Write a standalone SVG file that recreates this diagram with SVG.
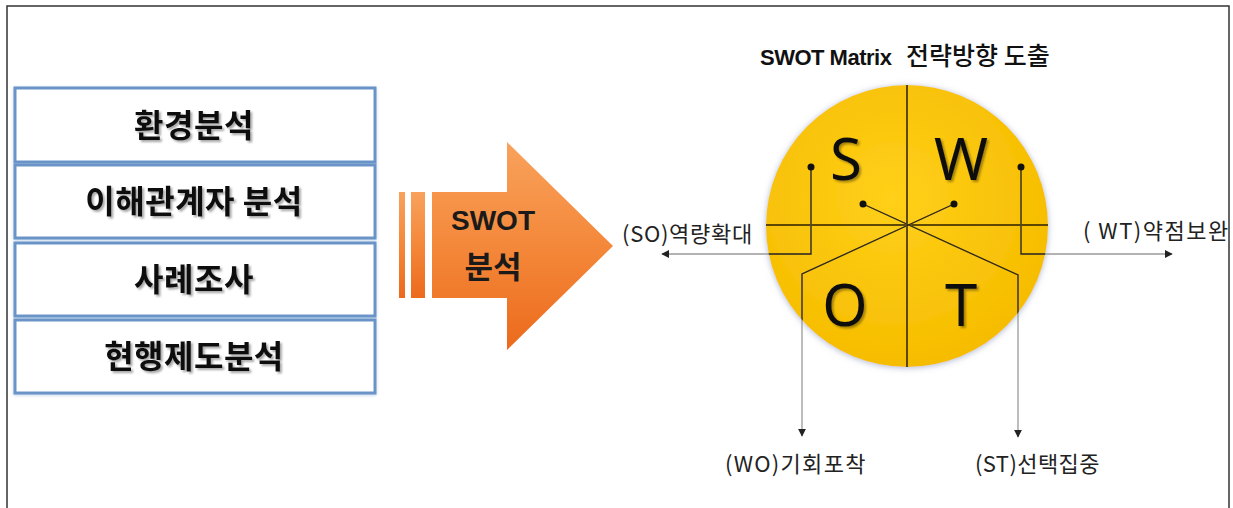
<svg xmlns="http://www.w3.org/2000/svg" width="1233" height="508" viewBox="0 0 1233 508">
<style>
.box{fill:#ffffff;stroke:#6a94c8;stroke-width:3}
.btxt{font-family:"Noto Sans CJK KR","Noto Sans",sans-serif;font-weight:700;font-size:32px;fill:#111;text-anchor:middle;letter-spacing:0.5px}
.lbl{font-family:"Noto Sans CJK KR","Noto Sans",sans-serif;font-size:22px;fill:#222}
.big{font-family:"Noto Sans","Open Sans",sans-serif;font-size:58px;fill:#111;text-anchor:middle}
.con{fill:none;stroke:#9a9a9a;stroke-width:1.3}
.inner{fill:none;stroke:#3a2a00;stroke-width:1.3}
.axis{stroke:#2a1e00;stroke-width:1.5}
.dot{fill:#111}
</style>
<defs>
<linearGradient id="og" x1="0" y1="0" x2="0" y2="1">
<stop offset="0" stop-color="#f8a25c"/>
<stop offset="0.5" stop-color="#f4883a"/>
<stop offset="1" stop-color="#ec6a1c"/>
</linearGradient>
<radialGradient id="yg" cx="0.45" cy="0.4" r="0.6">
<stop offset="0" stop-color="#ffd01a"/>
<stop offset="1" stop-color="#f6bd00"/>
</radialGradient>
<filter id="ts" x="-10%" y="-20%" width="130%" height="150%">
<feDropShadow dx="2" dy="2" stdDeviation="1.2" flood-color="#000" flood-opacity="0.35"/>
</filter>
<filter id="cs" x="-10%" y="-10%" width="120%" height="120%">
<feDropShadow dx="0" dy="1" stdDeviation="3" flood-color="#7080a8" flood-opacity="0.55"/>
</filter>
<filter id="bs" x="-5%" y="-10%" width="110%" height="120%">
<feDropShadow dx="0" dy="1" stdDeviation="1.5" flood-color="#6a94c8" flood-opacity="0.4"/>
</filter>
<clipPath id="cc"><circle cx="907" cy="226" r="141"/></clipPath>
<marker id="ah" viewBox="0 0 10 10" refX="9" refY="5" markerWidth="8" markerHeight="8" markerUnits="userSpaceOnUse" orient="auto">
<path d="M0,0 L10,5 L0,10 Z" fill="#222"/>
</marker>
<path id="pSO" d="M811,167 V254 H662"/>
<path id="pWT" d="M1021,167 V254 H1172"/>
<path id="pWO" d="M954,204 L802,274 V436"/>
<path id="pST" d="M863,204 L1018,275 V437"/>
</defs>
<rect width="1233" height="508" fill="#ffffff"/>
<rect x="7" y="6" width="1222" height="520" fill="none" stroke="#333" stroke-width="1.5"/>

<g id="box-env" filter="url(#bs)">
<rect class="box" x="15" y="88" width="360" height="74"/>
<text class="btxt" x="194" y="137" filter="url(#ts)">환경분석</text>
</g>
<g id="box-stakeholder" filter="url(#bs)">
<rect class="box" x="15" y="165" width="360" height="73"/>
<text class="btxt" x="194" y="213" filter="url(#ts)">이해관계자 분석</text>
</g>
<g id="box-case" filter="url(#bs)">
<rect class="box" x="15" y="243" width="360" height="73"/>
<text class="btxt" x="194" y="291" filter="url(#ts)">사례조사</text>
</g>
<g id="box-policy" filter="url(#bs)">
<rect class="box" x="15" y="320" width="360" height="73"/>
<text class="btxt" x="194" y="368" filter="url(#ts)">현행제도분석</text>
</g>

<g id="swot-arrow">
<rect x="399" y="192" width="6" height="106" fill="url(#og)"/>
<rect x="411" y="192" width="14" height="106" fill="url(#og)"/>
<polygon points="432,192 507,192 507,142 613,246 507,350 507,298 432,298" fill="url(#og)"/>
<text x="493" y="230" text-anchor="middle" font-family="Liberation Sans, sans-serif" font-weight="700" font-size="28" fill="#1a1a1a">SWOT</text>
<text x="493" y="278" text-anchor="middle" font-family="Noto Sans CJK KR, sans-serif" font-weight="700" font-size="31" fill="#1a1a1a">분석</text>
</g>

<g id="title">
<text x="760" y="65" font-family="Liberation Sans, sans-serif" font-weight="700" font-size="22" fill="#111" letter-spacing="-0.5">SWOT Matrix</text>
<text x="906" y="65" font-family="Noto Sans CJK KR, sans-serif" font-weight="500" font-size="25" fill="#111">전략방향 도출</text>
</g>

<g id="swot-circle">
<circle cx="907" cy="226" r="141" fill="url(#yg)" filter="url(#cs)"/>
<line class="axis" x1="766" y1="225" x2="1048" y2="225"/>
<line class="axis" x1="907" y1="85" x2="907" y2="367"/>
<text class="big" x="846" y="180" filter="url(#ts)">S</text>
<text class="big" x="961" y="180" filter="url(#ts)">W</text>
<text class="big" x="845" y="326" filter="url(#ts)">O</text>
<text class="big" x="961" y="326" filter="url(#ts)">T</text>
</g>

<g id="connectors">
<use href="#pSO" class="con" marker-end="url(#ah)"/>
<use href="#pWT" class="con" marker-end="url(#ah)"/>
<use href="#pWO" class="con" marker-end="url(#ah)"/>
<use href="#pST" class="con" marker-end="url(#ah)"/>
<g clip-path="url(#cc)">
<use href="#pSO" class="inner"/>
<use href="#pWT" class="inner"/>
<use href="#pWO" class="inner"/>
<use href="#pST" class="inner"/>
</g>
<circle class="dot" cx="811" cy="167" r="3.5"/>
<circle class="dot" cx="1021" cy="167" r="3.5"/>
<circle class="dot" cx="863" cy="204" r="3.5"/>
<circle class="dot" cx="954" cy="204" r="3.5"/>
</g>

<g id="labels">
<text class="lbl" x="622" y="242" letter-spacing="0.7">(SO)역량확대</text>
<text class="lbl" x="1083" y="239" font-size="23" letter-spacing="1.5">( WT)약점보완</text>
<text class="lbl" x="725" y="472" font-size="23" letter-spacing="1.3">(WO)기회포착</text>
<text class="lbl" x="975" y="472" font-size="23" letter-spacing="0.4">(ST)선택집중</text>
</g>
</svg>
